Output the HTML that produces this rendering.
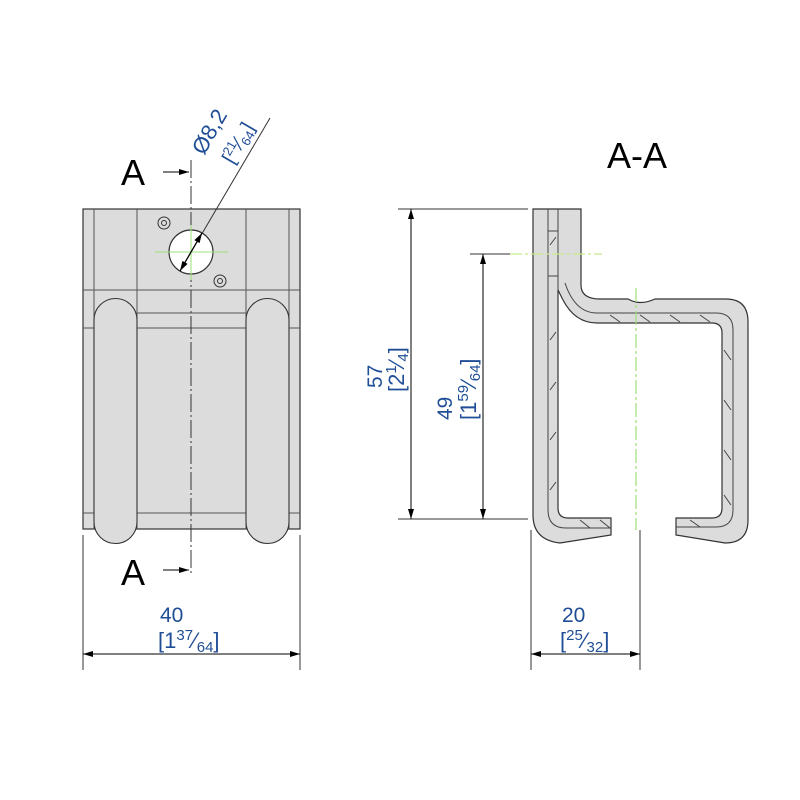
<!DOCTYPE html>
<html><head><style>body{margin:0;background:#fff}svg{display:block}</style></head><body>
<svg width="800" height="800" viewBox="0 0 800 800" xmlns="http://www.w3.org/2000/svg" font-family="Liberation Sans, sans-serif">
<defs>
<marker id="ar" viewBox="0 0 10 6" refX="10" refY="3" markerWidth="12" markerHeight="6" orient="auto-start-reverse" markerUnits="userSpaceOnUse"><path d="M0,0 L10,3 L0,6 Z" fill="#000"/></marker>
</defs>
<!-- Left view -->
<rect x="83" y="209" width="217" height="320" fill="#dcdcdc" stroke="#333" stroke-width="1.2"/>
<g stroke="#555" stroke-width="1">
<line x1="94" y1="209" x2="94" y2="529"/><line x1="289" y1="209" x2="289" y2="529"/>
<line x1="137" y1="209" x2="137" y2="529"/><line x1="246" y1="209" x2="246" y2="529"/>
<line x1="83" y1="290" x2="300" y2="290"/><line x1="83" y1="328" x2="300" y2="328"/>
<line x1="137" y1="313" x2="246" y2="313"/><line x1="83" y1="513" x2="300" y2="513"/>
</g>
<g fill="#dcdcdc" stroke="#333" stroke-width="1.1">
<path d="M94,320 A21.5,21.5 0 0 1 137,320 V522 A21.5,21.5 0 0 1 94,522 Z"/>
<path d="M246,320 A21.5,21.5 0 0 1 289,320 V522 A21.5,21.5 0 0 1 246,522 Z"/>
</g>
<line x1="191" y1="160" x2="191" y2="575" stroke="#333" stroke-width="1" stroke-dasharray="18,3,2,3"/>
<circle cx="191" cy="252" r="22" fill="#fff" stroke="#333" stroke-width="1.2"/>
<line x1="155" y1="252" x2="228" y2="252" stroke="#9ee07a" stroke-width="1"/>
<line x1="191" y1="225" x2="191" y2="280" stroke="#9ee07a" stroke-width="1"/>
<g fill="none" stroke="#333"><circle cx="164" cy="223" r="6"/><circle cx="164" cy="223" r="2.5"/><circle cx="220" cy="281" r="6"/><circle cx="220" cy="281" r="2.5"/></g>
<line x1="180" y1="271" x2="270" y2="118" stroke="#333" stroke-width="1" />
<line x1="180" y1="271" x2="202" y2="233" stroke="#000" stroke-width="1.2" marker-start="url(#ar)" marker-end="url(#ar)"/>
<text transform="translate(204,156) rotate(-60)" font-size="22" fill="#1f4e96">Ø8,2</text>
<text transform="translate(233,165) rotate(-60)" font-size="20" fill="#1f4e96">[<tspan font-size="13" dy="-7">21</tspan><tspan dy="7">⁄</tspan><tspan font-size="13" dy="4">64</tspan><tspan dy="-4">]</tspan></text>
<text x="121" y="185" font-size="36" fill="#000">A</text>
<line x1="163" y1="172" x2="189" y2="172" stroke="#000" marker-end="url(#ar)"/>
<text x="121" y="585" font-size="36" fill="#000">A</text>
<line x1="163" y1="570" x2="189" y2="570" stroke="#000" marker-end="url(#ar)"/>
<!-- bottom dims left -->
<g stroke="#333" stroke-width="1"><line x1="83" y1="535" x2="83" y2="670"/><line x1="300" y1="535" x2="300" y2="670"/></g>
<line x1="83" y1="654" x2="300" y2="654" stroke="#000" marker-start="url(#ar)" marker-end="url(#ar)"/>
<text x="160" y="622" font-size="21" fill="#1f4e96">40</text>
<text x="158" y="648" font-size="22" fill="#1f4e96">[1<tspan font-size="15" dy="-8">37</tspan><tspan dy="8">⁄</tspan><tspan font-size="15" dy="4">64</tspan><tspan dy="-4">]</tspan></text>
<!-- Section -->
<text x="607" y="168" font-size="36" fill="#000">A-A</text>
<path d="M533,209 H581 V285 Q581,299 600,299 H628 Q640,306 655,299 H726 Q748,299 748,322 V520 Q748,543 725,543 L676,535 V518 H712 Q722,518 722,508 V333 Q722,323 712,323 H597 Q575,323 563,300 L558,290 V508 Q558,518 568,518 H611 V535 L560,543 Q533,540 533,515 Z" fill="#dcdcdc" stroke="#333" stroke-width="1.2"/>
<g fill="none" stroke="#444" stroke-width="1">
<path d="M548,209 V510 Q548,528 566,528 H611"/>
<path d="M558,209 V290"/>
<path d="M548,231 H558 M548,276 H558"/>
<path d="M565,283 Q575,313 597,313 H716 Q733,313 733,330 V510 Q733,527 716,527 H676"/>
<path d="M550,245 L556,237 M550,340 L556,332 M550,390 L556,382 M550,440 L556,432 M550,490 L556,482 M580,520 L590,528 M600,520 L610,528"/>
<path d="M610,315 L620,322 M640,315 L650,322 M670,315 L680,322 M700,315 L710,322 M724,350 L731,360 M724,400 L731,410 M724,450 L731,460 M724,495 L731,505 M690,520 L700,527"/>
</g>
<line x1="636" y1="288" x2="636" y2="530" stroke="#9ee07a" stroke-width="1.2" stroke-dasharray="14,3,3,3"/>
<line x1="510" y1="254" x2="602" y2="254" stroke="#c8ec8a" stroke-width="1.2" stroke-dasharray="12,3,3,3"/>
<g stroke="#333" stroke-width="1">
<line x1="398" y1="209" x2="528" y2="209"/><line x1="398" y1="519" x2="528" y2="519"/>
<line x1="470" y1="254" x2="510" y2="254"/>
<line x1="531" y1="530" x2="531" y2="670"/><line x1="640" y1="530" x2="640" y2="670"/>
</g>
<line x1="411" y1="209" x2="411" y2="519" stroke="#000" marker-start="url(#ar)" marker-end="url(#ar)"/>
<line x1="483" y1="254" x2="483" y2="519" stroke="#000" marker-start="url(#ar)" marker-end="url(#ar)"/>
<line x1="531" y1="654" x2="640" y2="654" stroke="#000" marker-start="url(#ar)" marker-end="url(#ar)"/>
<text transform="translate(382,388) rotate(-90)" font-size="21" fill="#1f4e96">57</text>
<text transform="translate(404,392) rotate(-90)" font-size="22" fill="#1f4e96">[2<tspan font-size="15" dy="-8">1</tspan><tspan dy="8">⁄</tspan><tspan font-size="15" dy="4">4</tspan><tspan dy="-4">]</tspan></text>
<text transform="translate(452,420) rotate(-90)" font-size="21" fill="#1f4e96">49</text>
<text transform="translate(476,420) rotate(-90)" font-size="22" fill="#1f4e96">[1<tspan font-size="15" dy="-8">59</tspan><tspan dy="8">⁄</tspan><tspan font-size="15" dy="4">64</tspan><tspan dy="-4">]</tspan></text>
<text x="562" y="622" font-size="21" fill="#1f4e96">20</text>
<text x="560" y="648" font-size="22" fill="#1f4e96">[<tspan font-size="15" dy="-8">25</tspan><tspan dy="8">⁄</tspan><tspan font-size="15" dy="4">32</tspan><tspan dy="-4">]</tspan></text>
</svg>
</body></html>
